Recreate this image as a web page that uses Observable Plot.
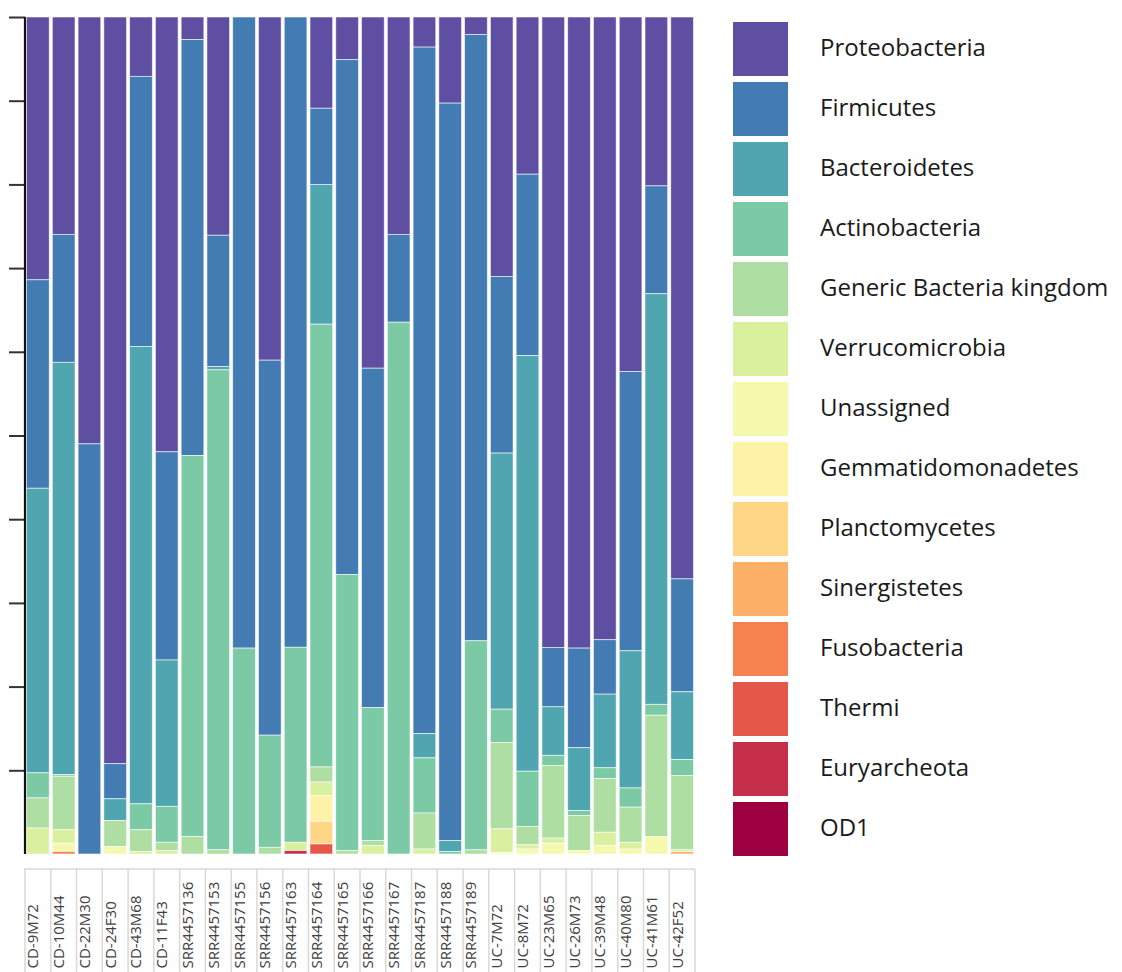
<!DOCTYPE html>
<html>
<head>
<meta charset="utf-8">
<script src="https://cdn.jsdelivr.net/npm/d3@7"></script>
<script src="https://cdn.jsdelivr.net/npm/@observablehq/plot@0.6"></script>
<style>
  html, body { margin: 0; padding: 0; background: #fff; }
  #wrap { position: relative; width: 1122px; height: 972px; overflow: hidden; font-family: "Open Sans", sans-serif; }
  #legend { position: absolute; left: 733px; top: 0; }
  .item { position: absolute; left: 0; width: 400px; height: 54px; }
  .sw { position: absolute; left: 0; top: 0; width: 55px; height: 54px; }
  .lab { position: absolute; left: 87px; top: -2px; line-height: 54px; font-size: 24px; color: #1a1a1a; white-space: nowrap; }
</style>
</head>
<body>
<div id="wrap"></div>
<script>
// ---- data (relative abundance, %) ----
const samples = ["CD-9M72","CD-10M44","CD-22M30","CD-24F30","CD-43M68","CD-11F43",
  "SRR4457136","SRR4457153","SRR4457155","SRR4457156","SRR4457163","SRR4457164",
  "SRR4457165","SRR4457166","SRR4457167","SRR4457187","SRR4457188","SRR4457189",
  "UC-7M72","UC-8M72","UC-23M65","UC-26M73","UC-39M48","UC-40M80","UC-41M61","UC-42F52"];

const phyla = ["Proteobacteria","Firmicutes","Bacteroidetes","Actinobacteria","Generic Bacteria kingdom",
  "Verrucomicrobia","Unassigned","Gemmatidomonadetes","Planctomycetes","Sinergistetes",
  "Fusobacteria","Thermi","Euryarcheota","OD1"];

const proteobacteria  = [31.4,26.0,51.0,89.3,7.1,52.0,2.7,26.1,0,41.0,0,10.9,5.1,42.0,26.0,3.6,10.3,2.1,31.0,18.8,75.4,75.4,74.4,42.4,20.2,67.2];
const firmicutes      = [24.9,15.3,49.0,4.2,32.3,24.9,49.7,15.7,75.4,44.8,75.3,9.1,61.5,40.6,10.5,82.1,88.2,72.5,21.1,21.7,7.1,11.9,6.5,33.4,12.9,13.5];
const bacteroidetes   = [34.0,49.3,0,2.6,54.7,17.5,0,0.4,0,0,0,16.7,0,0,0,2.9,1.3,0,30.6,49.7,5.8,7.5,8.8,16.4,49.1,8.1];
const actinobacteria  = [3.0,0.2,0,0,3.1,4.3,45.5,57.4,24.6,13.4,23.3,52.9,33.0,15.9,63.6,6.6,0.3,25.0,4.0,6.6,1.2,0.6,1.3,2.3,1.3,1.9];
const genericBacteria = [3.6,6.4,0,3.1,2.6,1.0,2.1,0.5,0,0.8,0,1.8,0.4,0.6,0,4.3,0,0.5,10.3,2.2,8.7,4.2,6.4,4.2,14.5,8.9];
const verrucomicrobia = [3.1,1.6,0,0,0.3,0.4,0,0,0,0,1.0,1.6,0,1.0,0,0.6,0,0,2.8,0.5,0.6,0,1.6,0.8,0,0.2];
const unassigned      = [0,1.0,0,0.9,0,0,0,0,0,0,0,0,0,0,0,0,0,0,0.2,0.6,1.3,0.4,1.0,0.6,2.1,0];
const gemmatimonadetes= [0,0,0,0,0,0,0,0,0,0,0,3.1,0,0,0,0,0,0,0,0,0,0,0,0,0,0];
const planctomycetes  = [0,0,0,0,0,0,0,0,0,0,0,2.7,0,0,0,0,0,0,0,0,0,0,0,0,0,0];
const sinergistetes   = [0,0,0,0,0,0,0,0,0,0,0,0,0,0,0,0,0,0,0,0,0,0,0,0,0,0.3];
const fusobacteria    = [0,0.3,0,0,0,0,0,0,0,0,0,0,0,0,0,0,0,0,0,0,0,0,0,0,0,0];
const thermi          = [0,0,0,0,0,0,0,0,0,0,0,1.2,0,0,0,0,0,0,0,0,0,0,0,0,0,0];
const euryarcheota    = [0,0,0,0,0,0,0,0,0,0,0.4,0,0,0,0,0,0,0,0,0,0,0,0,0,0,0];
const od1             = [0,0,0,0,0,0,0,0,0,0,0,0,0,0,0,0,0,0,0,0,0,0,0,0,0,0];

const seriesValues = [proteobacteria, firmicutes, bacteroidetes, actinobacteria, genericBacteria,
  verrucomicrobia, unassigned, gemmatimonadetes, planctomycetes, sinergistetes,
  fusobacteria, thermi, euryarcheota, od1];

const yTicks = [0.1,0.2,0.3,0.4,0.5,0.6,0.7,0.8,0.9,1.0];

// ---- build table ----
const rows = [];
phyla.forEach((p, j) => {
  samples.forEach((s, i) => rows.push({sample: s, phylum: p, value: seriesValues[j][i]}));
});

const colors = d3.quantize(d3.interpolateSpectral, phyla.length).reverse();

const chart = Plot.plot({
  width: 1122,
  height: 972,
  marginLeft: 25,
  marginRight: 427,
  marginTop: 17,
  marginBottom: 118,
  style: {background: "#fff", fontFamily: "Open Sans, sans-serif"},
  x: {domain: samples, paddingInner: 0.12, paddingOuter: 0.06, round: false, axis: null},
  y: {domain: [0, 1], axis: null},
  color: {domain: phyla, range: colors},
  marks: [
    Plot.barY(rows, Plot.stackY({
      x: "sample", y: "value", fill: "phylum", z: "phylum",
      order: [...phyla].reverse(), offset: "normalize",
      stroke: "white", strokeWidth: 0.8, strokeOpacity: 0.7
    })),
    Plot.axisY({ticks: yTicks, tickSize: 16, tickFormat: () => "", label: null, stroke: "#333", strokeWidth: 2}),
    Plot.text(samples, {x: d => d, frameAnchor: "bottom", rotate: -90, textAnchor: "start",
      dy: 114, fontSize: 15, fill: "#404040"})
  ]
});

document.getElementById("wrap").appendChild(chart);

// y axis line and label table grid, positioned from the plot's own scales
const xs = chart.scale("x");
const ys = chart.scale("y");
const svgSel = d3.select(chart);
svgSel.append("line")
  .attr("x1", 25).attr("x2", 25)
  .attr("y1", ys.apply(0)).attr("y2", ys.apply(1))
  .attr("stroke", "#111").attr("stroke-width", 2.2);

const half = (xs.step - xs.bandwidth) / 2;
const bounds = samples.map(s => xs.apply(s) - half);
bounds.push(xs.apply(samples[samples.length - 1]) + xs.bandwidth + half);
const tableTop = ys.apply(0) + 15;
const grid = svgSel.insert("g", ":first-child")
  .attr("stroke", "#d9d9d9").attr("stroke-width", 1.5).attr("fill", "none");
grid.append("line").attr("x1", bounds[0] - 1).attr("x2", bounds[bounds.length-1]).attr("y1", tableTop).attr("y2", tableTop);
bounds.forEach(b => grid.append("line").attr("x1", b).attr("x2", b).attr("y1", tableTop).attr("y2", 980));

// legend
const colorScale = chart.scale("color");
const legend = document.createElement("div");
legend.id = "legend";
phyla.forEach((p, i) => {
  const it = document.createElement("div");
  it.className = "item";
  it.style.top = (21.7 + i * 60) + "px";
  const sw = document.createElement("div");
  sw.className = "sw";
  sw.style.background = colorScale.apply(p);
  const lab = document.createElement("div");
  lab.className = "lab";
  lab.textContent = p;
  it.appendChild(sw); it.appendChild(lab);
  legend.appendChild(it);
});
document.getElementById("wrap").appendChild(legend);
</script>
</body>
</html>
